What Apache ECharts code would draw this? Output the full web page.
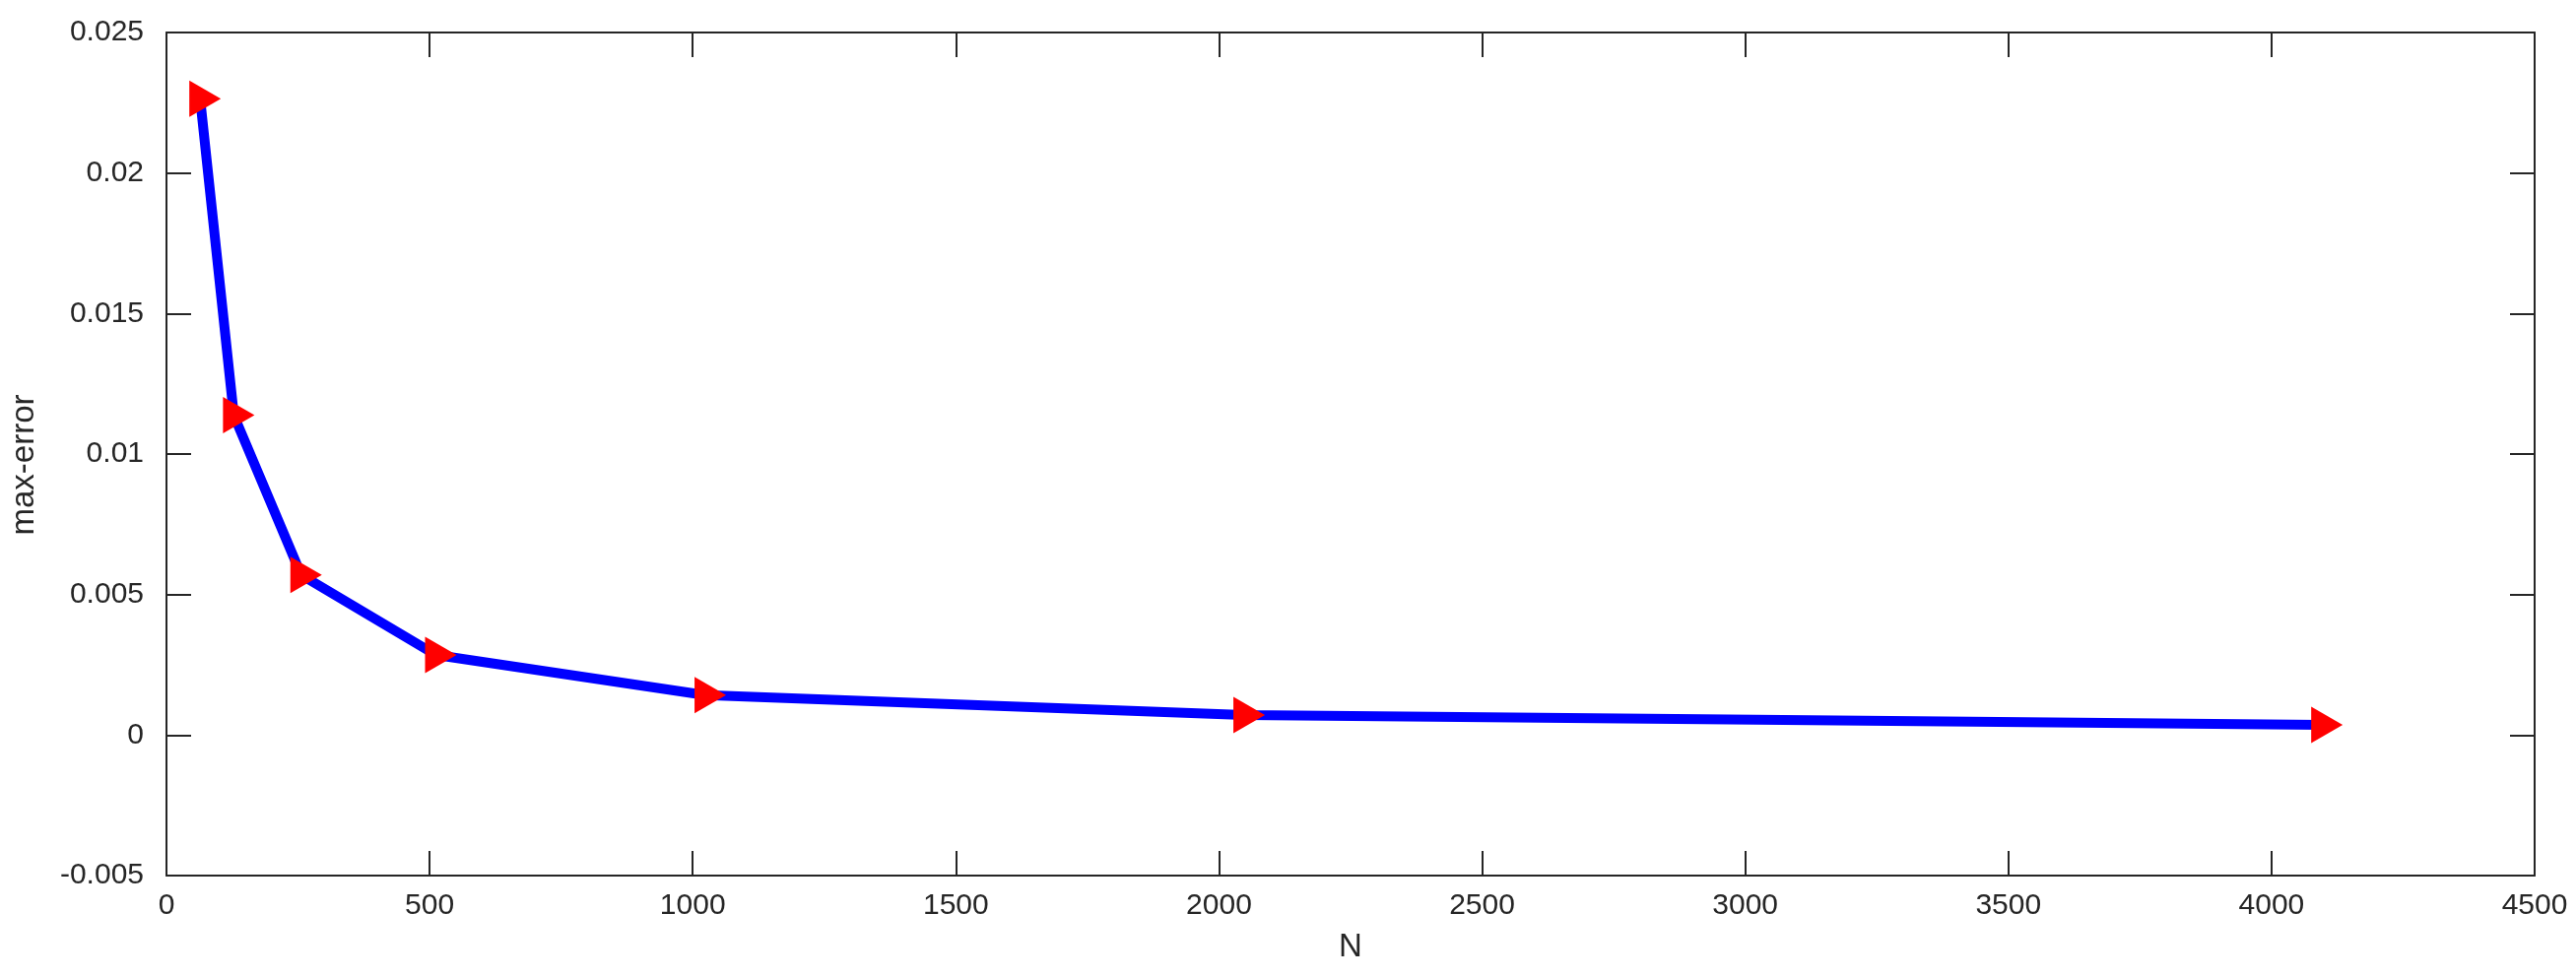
<!DOCTYPE html>
<html>
<head>
<meta charset="utf-8">
<script src="https://cdn.jsdelivr.net/npm/echarts@6/dist/echarts.min.js"></script>
<style>
html,body{margin:0;padding:0;background:#fff;}
#chart{width:2615px;height:993px;}
</style>
</head>
<body>
<div id="chart"></div>
<script>
// Data
const nValues = [64, 128, 256, 512, 1024, 2048, 4096];
const maxError = [0.02264, 0.01138, 0.0057, 0.00285, 0.00142, 0.00071, 0.00036];
const xAxisName = 'N';
const yAxisName = 'max-error';

const points = nValues.map((n, i) => [n, maxError[i]]);
const axisColor = '#262626';
const font = 'Liberation Sans, Helvetica, Arial, sans-serif';
const fs = 30;
const nameFs = 33;

const chart = echarts.init(document.getElementById('chart'), null, {renderer: 'canvas'});
const lineStyleAxis = {show: true, onZero: false, lineStyle: {color: axisColor, width: 2}};
const tickInside = {show: true, inside: true, length: 25, lineStyle: {color: axisColor, width: 2}};

chart.setOption({
  animation: false,
  backgroundColor: '#ffffff',
  grid: {left: 165, top: 33, width: 2408, height: 856, containLabel: false},
  xAxis: [
    {
      type: 'value', min: 0, max: 4500, interval: 500, position: 'bottom',
      name: xAxisName, nameLocation: 'middle', nameGap: 56,
      nameTextStyle: {color: axisColor, fontSize: nameFs, fontFamily: font},
      axisLine: lineStyleAxis, axisTick: tickInside, splitLine: {show: false},
      axisLabel: {color: axisColor, fontSize: fs, fontFamily: font, margin: 16,
        formatter: v => String(v)}
    },
    {
      type: 'value', min: 0, max: 4500, interval: 500, position: 'top',
      axisLine: lineStyleAxis, axisTick: tickInside, splitLine: {show: false},
      axisLabel: {show: false}
    }
  ],
  yAxis: [
    {
      type: 'value', min: -0.005, max: 0.025, interval: 0.005, position: 'left',
      name: yAxisName, nameLocation: 'middle', nameGap: 128, nameRotate: 90,
      nameTextStyle: {color: axisColor, fontSize: nameFs, fontFamily: font, padding: [0, 22, 0, 0]},
      axisLine: lineStyleAxis, axisTick: tickInside, splitLine: {show: false},
      axisLabel: {color: axisColor, fontSize: fs, fontFamily: font, margin: 23,
        formatter: v => String(+v.toFixed(4))}
    },
    {
      type: 'value', min: -0.005, max: 0.025, interval: 0.005, position: 'right',
      axisLine: lineStyleAxis, axisTick: tickInside, splitLine: {show: false},
      axisLabel: {show: false}
    }
  ],
  series: [
    {
      type: 'line',
      data: points,
      xAxisIndex: 0, yAxisIndex: 0,
      lineStyle: {color: '#0000ff', width: 10},
      symbol: 'none',
      z: 2
    },
    {
      type: 'scatter',
      data: points,
      xAxisIndex: 0, yAxisIndex: 0,
      symbol: 'path://M0,0L0,2L1.73,1Z',
      symbolSize: [32, 37],
      symbolKeepAspect: false,
      symbolOffset: [5, 0],
      itemStyle: {color: '#ff0000', opacity: 1},
      z: 3
    }
  ]
});
</script>
</body>
</html>
